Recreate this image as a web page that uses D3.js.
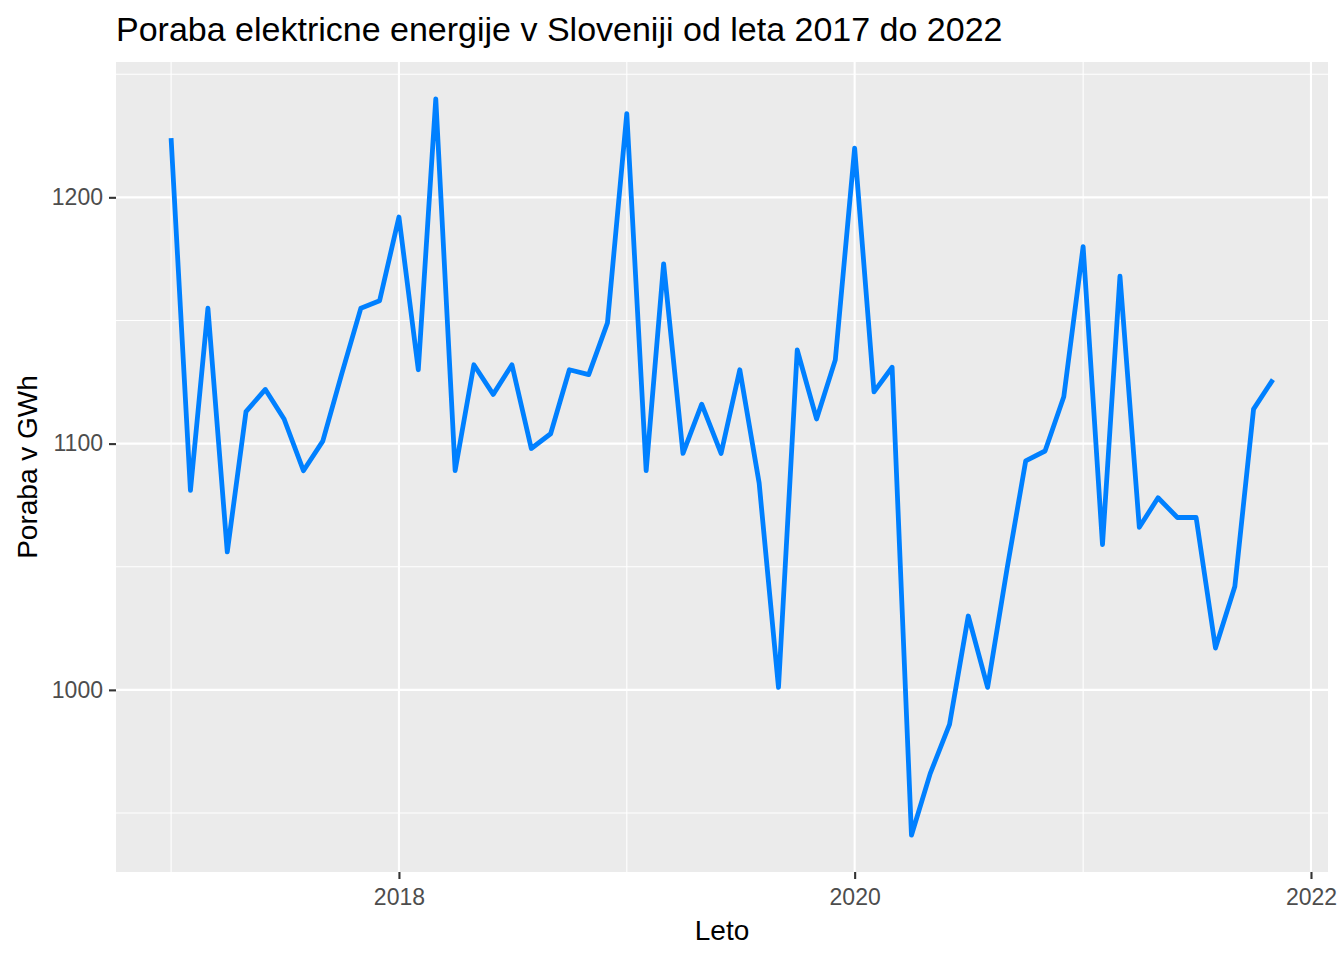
<!DOCTYPE html>
<html>
<head>
<meta charset="utf-8">
<script src="https://cdn.jsdelivr.net/npm/d3@7"></script>
<style>
  body { margin: 0; background: #fff; }
  text { font-family: "Liberation Sans", Arial, sans-serif; }
</style>
</head>
<body>
<div id="chart-area"></div>
<script>
// monthly consumption, GWh
const months = [
  "2017-01","2017-02","2017-03","2017-04","2017-05","2017-06","2017-07","2017-08","2017-09","2017-10","2017-11","2017-12",
  "2018-01","2018-02","2018-03","2018-04","2018-05","2018-06","2018-07","2018-08","2018-09","2018-10","2018-11","2018-12",
  "2019-01","2019-02","2019-03","2019-04","2019-05","2019-06","2019-07","2019-08","2019-09","2019-10","2019-11","2019-12",
  "2020-01","2020-02","2020-03","2020-04","2020-05","2020-06","2020-07","2020-08","2020-09","2020-10","2020-11","2020-12",
  "2021-01","2021-02","2021-03","2021-04","2021-05","2021-06","2021-07","2021-08","2021-09","2021-10","2021-11"
];
const poraba = [
  1224, 1081, 1155, 1056, 1113, 1122, 1110, 1089, 1101, 1128, 1155, 1158,
  1192, 1130, 1240, 1089, 1132, 1120, 1132, 1098, 1104, 1130, 1128, 1149,
  1234, 1089, 1173, 1096, 1116, 1096, 1130, 1084, 1001, 1138, 1110, 1134,
  1220, 1121, 1131, 941, 966, 986, 1030, 1001, 1049, 1093, 1097, 1119,
  1180, 1059, 1168, 1066, 1078, 1070, 1070, 1017, 1042, 1114, 1126
];
const majorYears = [2018, 2020, 2022];
const minorYears = [2017, 2019, 2021];
const majorY = [1000, 1100, 1200];
const minorY = [950, 1050, 1150, 1250];

const w = 1344;
const h = 960;

const svg = d3.select("#chart-area")
            .append("svg")
            .attr("width", w)
            .attr("height", h);

// panel position
const margin = { left: 116, right: 16, top: 62, bottom: 88 };
const innerWidth = w - margin.left - margin.right;
const innerHeight = h - margin.top - margin.bottom;

const parse = d3.timeParse("%Y-%m");
const data = months.map((m, i) => ({ date: parse(m), value: poraba[i] }));

// ggplot style 5% expansion
const xExt = d3.extent(data, d => +d.date);
const xPad = (xExt[1] - xExt[0]) * 0.05;
const x = d3.scaleTime()
            .domain([new Date(xExt[0] - xPad), new Date(xExt[1] + xPad)])
            .range([0, innerWidth]);

const yExt = d3.extent(data, d => d.value);
const yPad = (yExt[1] - yExt[0]) * 0.05;
const y = d3.scaleLinear()
            .domain([yExt[0] - yPad, yExt[1] + yPad])
            .range([innerHeight, 0]);

const yearDate = yr => new Date(yr, 0, 1);

const g = svg.append("g")
            .attr("transform", "translate(" + margin.left + "," + margin.top + ")");

g.append("rect")
  .attr("width", innerWidth)
  .attr("height", innerHeight)
  .attr("fill", "#ebebeb");

// minor grid
g.selectAll(".minor-y").data(minorY).enter().append("line")
  .attr("x1", 0).attr("x2", innerWidth)
  .attr("y1", d => y(d)).attr("y2", d => y(d))
  .attr("stroke", "#fff").attr("stroke-width", 1.1);
g.selectAll(".minor-x").data(minorYears).enter().append("line")
  .attr("y1", 0).attr("y2", innerHeight)
  .attr("x1", d => x(yearDate(d))).attr("x2", d => x(yearDate(d)))
  .attr("stroke", "#fff").attr("stroke-width", 1.1);

// major grid
g.selectAll(".major-y").data(majorY).enter().append("line")
  .attr("x1", 0).attr("x2", innerWidth)
  .attr("y1", d => y(d)).attr("y2", d => y(d))
  .attr("stroke", "#fff").attr("stroke-width", 2.1);
g.selectAll(".major-x").data(majorYears).enter().append("line")
  .attr("y1", 0).attr("y2", innerHeight)
  .attr("x1", d => x(yearDate(d))).attr("x2", d => x(yearDate(d)))
  .attr("stroke", "#fff").attr("stroke-width", 2.1);

// line
const line = d3.line()
  .x(d => x(d.date))
  .y(d => y(d.value));

g.append("path")
  .datum(data)
  .attr("d", line)
  .attr("fill", "none")
  .attr("stroke", "#0080ff")
  .attr("stroke-width", 4.8)
  .attr("stroke-linejoin", "round");

// axes
const xAxis = d3.axisBottom(x)
  .tickValues(majorYears.map(yearDate))
  .tickFormat(d3.timeFormat("%Y"))
  .tickSize(7)
  .tickPadding(10);
const yAxis = d3.axisLeft(y)
  .tickValues(majorY)
  .tickFormat(d3.format("d"))
  .tickSize(7)
  .tickPadding(6);

const gx = g.append("g")
  .attr("transform", "translate(0," + innerHeight + ")")
  .call(xAxis);
const gy = g.append("g").call(yAxis);

[gx, gy].forEach(a => {
  a.select(".domain").remove();
  a.selectAll("line").attr("stroke", "#333").attr("stroke-width", 2.1);
  a.selectAll("text")
    .attr("fill", "#4d4d4d")
    .style("font-size", "23px")
    .style("font-family", "'Liberation Sans', Arial, sans-serif");
});

// titles
svg.append("text")
  .attr("x", margin.left)
  .attr("y", 41)
  .attr("fill", "#000")
  .style("font-size", "34px")
  .text("Poraba elektricne energije v Sloveniji od leta 2017 do 2022");

svg.append("text")
  .attr("x", margin.left + innerWidth / 2)
  .attr("y", 940)
  .attr("text-anchor", "middle")
  .attr("fill", "#000")
  .style("font-size", "28px")
  .text("Leto");

svg.append("text")
  .attr("transform", "translate(37," + (margin.top + innerHeight / 2) + ") rotate(-90)")
  .attr("text-anchor", "middle")
  .attr("fill", "#000")
  .style("font-size", "28px")
  .text("Poraba v GWh");
</script>
</body>
</html>
